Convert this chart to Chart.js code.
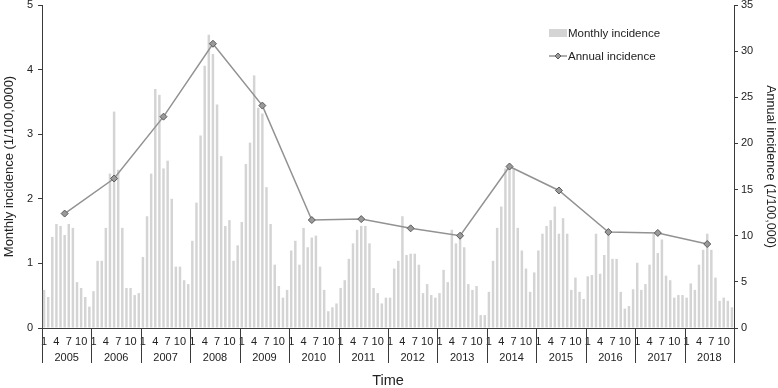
<!DOCTYPE html>
<html lang="en">
<head>
<meta charset="UTF-8">
<title>Monthly and annual incidence</title>
<script src="https://cdn.jsdelivr.net/npm/chart.js@4.4.0/dist/chart.umd.min.js"></script>
<style>
  html, body { margin: 0; padding: 0; background: #fff; }
  #box { width: 778px; height: 388px; }
</style>
</head>
<body>
<div id="box"><canvas id="incidence"></canvas></div>

<script>
// data
const years = ['2005', '2006', '2007', '2008', '2009', '2010', '2011',
               '2012', '2013', '2014', '2015', '2016', '2017', '2018'];
const months = ['1', '2', '3', '4', '5', '6', '7', '8', '9', '10', '11', '12'];
const shownMonths = ['1', '4', '7', '10'];

// monthly incidence (1/100,0000), one row per year
const monthlyIncidence = [
  0.59, 0.48, 1.41, 1.61, 1.58, 1.44, 1.61, 1.55, 0.71, 0.62, 0.48, 0.33,
  0.57, 1.04, 1.04, 1.55, 2.39, 3.35, 2.45, 1.55, 0.62, 0.62, 0.51, 0.54,
  1.10, 1.73, 2.39, 3.70, 3.61, 2.47, 2.59, 2.00, 0.95, 0.95, 0.74, 0.68,
  1.35, 1.94, 2.98, 4.06, 4.54, 4.24, 3.46, 2.66, 1.58, 1.67, 1.04, 1.28,
  1.64, 2.54, 2.87, 3.91, 3.41, 3.32, 2.18, 1.61, 0.98, 0.65, 0.47, 0.59,
  1.20, 1.35, 0.98, 1.55, 1.25, 1.40, 1.43, 0.95, 0.59, 0.26, 0.32, 0.38,
  0.62, 0.74, 1.07, 1.31, 1.52, 1.58, 1.58, 1.31, 0.62, 0.54, 0.38, 0.47,
  0.47, 0.92, 1.04, 1.73, 1.13, 1.15, 1.15, 0.98, 0.54, 0.68, 0.51, 0.47,
  0.54, 0.90, 0.71, 1.52, 1.31, 1.40, 1.25, 0.68, 0.59, 0.65, 0.20, 0.20,
  0.56, 1.04, 1.55, 1.88, 2.47, 2.50, 2.47, 1.55, 1.20, 0.92, 0.56, 0.86,
  1.20, 1.46, 1.58, 1.67, 1.88, 1.46, 1.70, 1.46, 0.59, 0.78, 0.56, 0.45,
  0.80, 0.82, 1.46, 0.84, 1.13, 1.51, 1.07, 1.07, 0.56, 0.30, 0.34, 0.60,
  1.01, 0.59, 0.68, 0.98, 1.46, 1.16, 1.37, 0.81, 0.74, 0.47, 0.51, 0.51,
  0.47, 0.69, 0.59, 0.98, 1.21, 1.46, 1.21, 0.78, 0.42, 0.47, 0.42, 0.32
];

// annual incidence (1/100,000), plotted at June of each year
const annualIncidence = [12.4, 16.2, 22.9, 30.8, 24.1, 11.7, 11.8,
                         10.8, 10.0, 17.5, 14.9, 10.4, 10.3, 9.1];
const annualMonth = 5;   // index of June

const labels = years.flatMap(() => months);
const annualData = labels.map((m, i) =>
  i % 12 === annualMonth ? annualIncidence[Math.floor(i / 12)] : null);

const FONT = '"Liberation Sans", Arial, sans-serif';
const INK = '#222';
const AXIS = '#3a3a3a';
const BAR = '#d4d4d4';
const LINE = '#929292';

// year row under the month numbers, with separators
const yearRow = {
  id: 'yearRow',
  afterDraw(chart) {
    const x = chart.scales.x;
    const ctx = chart.ctx;
    const slot = x.getPixelForValue(1) - x.getPixelForValue(0);
    const top = x.top;
    ctx.save();
    ctx.strokeStyle = AXIS;
    ctx.lineWidth = 1;
    for (let k = 0; k <= years.length; k++) {
      const bx = Math.round(x.getPixelForValue(k * 12) - slot / 2) + 0.5;
      ctx.beginPath();
      ctx.moveTo(bx, top);
      ctx.lineTo(bx, top + 35);
      ctx.stroke();
    }
    ctx.fillStyle = INK;
    ctx.font = '11px ' + FONT;
    ctx.textAlign = 'center';
    ctx.textBaseline = 'middle';
    years.forEach((y, k) => {
      const cx = (x.getPixelForValue(k * 12) + x.getPixelForValue(k * 12 + 11)) / 2;
      ctx.fillText(y, cx, top + 30);
    });
    ctx.restore();
  }
};

// legend inside the top right of the plot
const innerLegend = {
  id: 'innerLegend',
  afterDraw(chart) {
    const ctx = chart.ctx;
    const a = chart.chartArea;
    const lx = a.right - 185;
    const ly = a.top + 28;
    ctx.save();
    ctx.fillStyle = BAR;
    ctx.fillRect(lx, ly - 4, 18, 8);

    ctx.strokeStyle = LINE;
    ctx.lineWidth = 1.5;
    ctx.beginPath();
    ctx.moveTo(lx, ly + 23);
    ctx.lineTo(lx + 18, ly + 23);
    ctx.stroke();
    ctx.fillStyle = '#9a9a9a';
    ctx.strokeStyle = '#5a5a5a';
    ctx.lineWidth = 1;
    ctx.beginPath();
    ctx.moveTo(lx + 9, ly + 20);
    ctx.lineTo(lx + 12, ly + 23);
    ctx.lineTo(lx + 9, ly + 26);
    ctx.lineTo(lx + 6, ly + 23);
    ctx.closePath();
    ctx.fill();
    ctx.stroke();

    ctx.fillStyle = INK;
    ctx.font = '11.5px ' + FONT;
    ctx.textBaseline = 'middle';
    ctx.fillText('Monthly incidence', lx + 19, ly + 1);
    ctx.fillText('Annual incidence', lx + 19, ly + 24);
    ctx.restore();
  }
};

function fixSize(prop, size) {
  return function (scale) {
    scale[prop] = size;
    scale.paddingTop = 0;
    scale.paddingBottom = 0;
    scale.paddingLeft = 0;
    scale.paddingRight = 0;
  };
}

const ctx = document.getElementById('incidence').getContext('2d');
const incidenceChart = new Chart(ctx, {
  data: {
    labels: labels,
    datasets: [
      {
        type: 'line',
        label: 'Annual incidence',
        data: annualData,
        yAxisID: 'y1',
        spanGaps: true,
        borderColor: LINE,
        borderWidth: 1.5,
        pointStyle: 'rectRot',
        pointRadius: 3.5,
        pointBackgroundColor: '#9a9a9a',
        pointBorderColor: '#5a5a5a',
        pointBorderWidth: 1,
        tension: 0,
        order: 0
      },
      {
        type: 'bar',
        label: 'Monthly incidence',
        data: monthlyIncidence,
        yAxisID: 'y',
        backgroundColor: BAR,
        barPercentage: 0.6,
        categoryPercentage: 1.0,
        order: 1
      }
    ]
  },
  options: {
    responsive: true,
    maintainAspectRatio: false,
    animation: false,
    layout: { padding: { top: 5, left: 0, right: 0, bottom: 0 } },
    plugins: {
      legend: { display: false },
      tooltip: { enabled: false }
    },
    scales: {
      x: {
        type: 'category',
        offset: true,
        afterFit: fixSize('height', 60),
        grid: { display: true, drawOnChartArea: false, drawTicks: false, color: 'rgba(0,0,0,0)' },
        border: { display: true, color: AXIS, width: 1 },
        ticks: {
          autoSkip: false,
          maxRotation: 0,
          padding: 7,
          color: INK,
          font: { family: FONT, size: 11 },
          callback: function (value) {
            const m = this.getLabelForValue(value);
            return shownMonths.includes(m) ? m : '';
          }
        },
        title: {
          display: true,
          text: 'Time',
          color: INK,
          font: { family: FONT, size: 14.5 },
          padding: { top: 0, bottom: -2 }
        }
      },
      y: {
        position: 'left',
        min: 0,
        max: 5,
        afterFit: fixSize('width', 42),
        grid: { drawOnChartArea: false, tickLength: 4, color: AXIS },
        border: { color: AXIS, width: 1 },
        ticks: {
          stepSize: 1,
          padding: 5,
          color: INK,
          font: { family: FONT, size: 11 }
        },
        title: {
          display: true,
          text: 'Monthly incidence (1/100,0000)',
          color: INK,
          font: { family: FONT, size: 13 },
          padding: { top: 2, bottom: 0 }
        }
      },
      y1: {
        position: 'right',
        min: 0,
        max: 35,
        afterFit: fixSize('width', 44),
        grid: { drawOnChartArea: false, tickLength: 4, color: AXIS },
        border: { color: AXIS, width: 1 },
        ticks: {
          stepSize: 5,
          padding: 3,
          color: INK,
          font: { family: FONT, size: 11 }
        },
        title: {
          display: true,
          text: 'Annual incidence (1/100,000)',
          color: INK,
          font: { family: FONT, size: 12.5 },
          padding: { top: 0, bottom: -1 }
        }
      }
    }
  },
  plugins: [yearRow, innerLegend]
});
</script>
</body>
</html>
